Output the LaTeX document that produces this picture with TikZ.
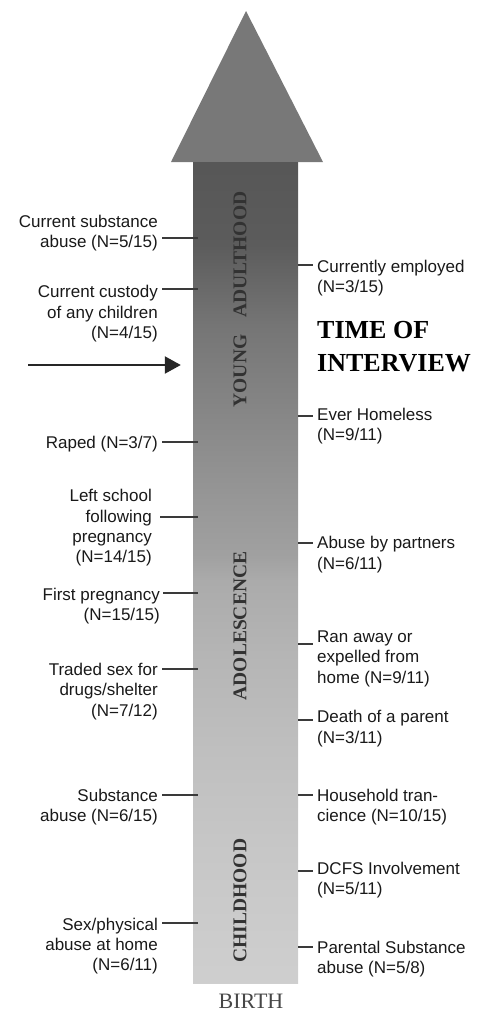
\documentclass[tikz,border=0pt]{standalone}
\usepackage{fontspec}
\setmainfont{Liberation Sans}
\newfontfamily\timesfont{Liberation Serif}
\usetikzlibrary{positioning,arrows.meta}

\definecolor{headgray}{RGB}{120,120,120}
\definecolor{tickgray}{RGB}{58,58,58}
\definecolor{stagegray}{RGB}{50,50,50}

% shaft gets lighter from adulthood (top) down to birth
\pgfdeclareverticalshading{lifeline}{100bp}{%
  color(0bp)=(black!19); color(25bp)=(black!19); color(33bp)=(black!22);
  color(39bp)=(black!25); color(45bp)=(black!29); color(49.5bp)=(black!33);
  color(51bp)=(black!37); color(54.5bp)=(black!41); color(59.5bp)=(black!47);
  color(65bp)=(black!54); color(70bp)=(black!64); color(75bp)=(black!66);
  color(100bp)=(black!66)}

\newcommand{\lbl}{\fontsize{17}{20.3}\selectfont}

\tikzset{
  shaft/.style={minimum width=105pt, minimum height=821pt, inner sep=0pt, shading=lifeline},
  stage/.style={rotate=90, inner sep=0pt, text=stagegray, font={\fontsize{19.5}{20}\timesfont\bfseries}},
  evl/.style={align=right, inner sep=0pt, text=black!90, font=\lbl},
  evr/.style={align=left, inner sep=0pt, text=black!90, font=\lbl},
  tick/.style={draw=tickgray, line width=1.6pt},
  tickl/.style={tick, shorten >=-5pt},
  nowarrow/.style={draw=black!85, line width=2.2pt, -{Triangle[length=16pt,width=17pt]}, shorten >=12pt}
}

\begin{document}
\begin{tikzpicture}[x=1pt, y=-1pt]
    \useasboundingbox (0,0) rectangle (485,1013);

    % arrow head and shaft
    \fill[headgray] (171,162) -- (246,11) -- (323,162) -- cycle;
    \node[shaft] (shaft) at (245.5,572.5) {};

    \node[stage] (young) at (240,299.5) {YOUNG\hspace{17pt}ADULTHOOD};
    \node[stage] (adol) at (240,626) {ADOLESCENCE};
    \node[stage] (child) at (240,900.5) {CHILDHOOD};
    \node[anchor=base, inner sep=0pt, text=black!72, font={\fontsize{22}{24}\timesfont}] (birth) at (251,1008) {BIRTH};

    % time of interview
    \node[anchor=north west, align=left, inner sep=0pt, font={\fontsize{26}{33}\timesfont\bfseries}] (now) at (317,321.3) {TIME OF\\INTERVIEW};
    \coordinate (nowtail) at (28,365);
    \draw[nowarrow] (nowtail) -- (nowtail -| shaft.west);

    % left side
    \coordinate (cl1) at (162,238);
    \node[evl, below left=-23.5pt and 4pt of cl1] (subnow) {Current substance\\abuse (N=5/15)};
    \draw[tickl] (cl1) -- (cl1 -| shaft.west);

    \coordinate (cl2) at (162,289);
    \node[evl, below left=-3.7pt and 4pt of cl2] (custody) {Current custody\\of any children\\(N=4/15)};
    \draw[tickl] (cl2) -- (cl2 -| shaft.west);

    \coordinate (cl3) at (162,442);
    \node[evl, below left=-6.3pt and 4pt of cl3] (raped) {Raped (N=3/7)};
    \draw[tickl] (cl3) -- (cl3 -| shaft.west);

    \coordinate (cl4) at (160,517);
    \node[evl, below left=-27.8pt and 8pt of cl4] (leftschool) {Left school\\following\\pregnancy\\(N=14/15)};
    \draw[tickl] (cl4) -- (cl4 -| shaft.west);

    \coordinate (cl5) at (163,593);
    \node[evl, below left=-5.4pt and 3pt of cl5] (firstpreg) {First pregnancy\\(N=15/15)};
    \draw[tickl] (cl5) -- (cl5 -| shaft.west);

    \coordinate (cl6) at (162,669);
    \node[evl, below left=-6.1pt and 4pt of cl6] (traded) {Traded sex for\\drugs/shelter\\(N=7/12)};
    \draw[tickl] (cl6) -- (cl6 -| shaft.west);

    \coordinate (cl7) at (162,795);
    \node[evl, below left=-6.1pt and 4pt of cl7] (subteen) {Substance\\abuse (N=6/15)};
    \draw[tickl] (cl7) -- (cl7 -| shaft.west);

    \coordinate (cl8) at (162,923);
    \node[evl, below left=-5.2pt and 4pt of cl8] (homeabuse) {Sex/physical\\abuse at home\\(N=6/11)};
    \draw[tickl] (cl8) -- (cl8 -| shaft.west);

    % right side
    \coordinate (cr1) at (313,265);
    \node[evr, below right=-5.5pt and 4pt of cr1] (employed) {Currently employed\\(N=3/15)};
    \draw[tick] (cr1 -| shaft.east) -- (cr1);

    \coordinate (cr2) at (313,416);
    \node[evr, below right=-8pt and 4pt of cr2] (homeless) {Ever Homeless\\(N=9/11)};
    \draw[tick] (cr2 -| shaft.east) -- (cr2);

    \coordinate (cr3) at (313,543);
    \node[evr, below right=-6.8pt and 4pt of cr3] (partners) {Abuse by partners\\(N=6/11)};
    \draw[tick] (cr3 -| shaft.east) -- (cr3);

    \coordinate (cr4) at (313,644);
    \node[evr, below right=-13.3pt and 4pt of cr4] (ranaway) {Ran away or\\expelled from\\home (N=9/11)};
    \draw[tick] (cr4 -| shaft.east) -- (cr4);

    \coordinate (cr5) at (313,720);
    \node[evr, below right=-9.6pt and 4pt of cr5] (death) {Death of a parent\\(N=3/11)};
    \draw[tick] (cr5 -| shaft.east) -- (cr5);

    \coordinate (cr6) at (313,795);
    \node[evr, below right=-6.3pt and 4pt of cr6] (transience) {Household tran-\\cience (N=10/15)};
    \draw[tick] (cr6 -| shaft.east) -- (cr6);

    \coordinate (cr7) at (313,871);
    \node[evr, below right=-9.3pt and 4pt of cr7] (dcfs) {DCFS Involvement\\(N=5/11)};
    \draw[tick] (cr7 -| shaft.east) -- (cr7);

    \coordinate (cr8) at (313,947);
    \node[evr, below right=-6.3pt and 4pt of cr8] (parental) {Parental Substance\\abuse (N=5/8)};
    \draw[tick] (cr8 -| shaft.east) -- (cr8);
\end{tikzpicture}
\end{document}
